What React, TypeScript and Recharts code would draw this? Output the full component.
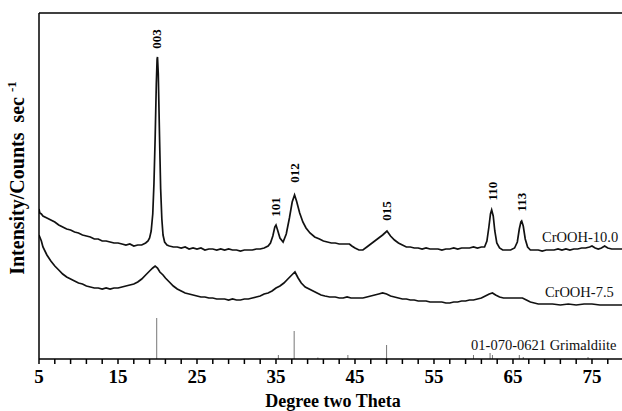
import React from 'react';
import { ComposedChart, Line, Scatter, XAxis, YAxis, ReferenceLine } from 'recharts';

// CrOOH-10.0 trace: [2theta, counts]
const crooh100: [number, number][] = [
  [5.0, 150], [5.1, 146], [5.3, 145], [5.5, 143], [6.0, 141], [6.5, 139], [7.0, 137], [7.5, 134],
  [8.0, 132], [8.5, 130], [9.0, 129], [9.5, 127], [10.0, 126], [10.5, 124], [11.0, 123], [11.5, 122],
  [12.0, 120], [12.5, 120], [13.0, 118], [13.5, 118], [14.0, 117], [14.5, 116], [15.0, 116], [15.5, 115],
  [16.0, 114], [16.5, 115], [17.0, 113], [17.5, 114], [18.0, 114], [18.5, 116], [18.8, 118], [19.0, 121],
  [19.2, 128], [19.4, 145], [19.55, 175], [19.7, 220], [19.85, 275], [19.95, 300], [20.0, 302], [20.1, 285],
  [20.25, 225], [20.4, 170], [20.55, 140], [20.7, 124], [20.9, 117], [21.2, 114], [21.5, 113], [22.0, 112],
  [22.5, 112], [23.0, 111], [23.5, 112], [24.0, 110], [24.5, 111], [25.0, 110], [25.5, 111], [26.0, 109],
  [26.5, 110], [27.0, 110], [27.5, 109], [28.0, 110], [28.5, 109], [29.0, 110], [29.5, 109], [30.0, 109],
  [30.5, 108], [31.0, 109], [31.5, 109], [32.0, 109], [32.5, 110], [33.0, 110], [33.5, 111], [34.0, 113],
  [34.3, 116], [34.6, 123], [34.85, 132], [35.0, 134], [35.2, 129], [35.5, 121], [35.9, 117], [36.3, 125],
  [36.7, 141], [37.05, 157], [37.35, 164], [37.6, 158], [38.0, 146], [38.4, 137], [38.8, 131], [39.3, 126],
  [39.9, 122], [40.5, 120], [41.0, 118], [41.5, 117], [42.0, 116], [42.5, 116], [43.0, 115], [43.5, 115],
  [44.0, 115], [44.3, 115], [44.6, 113], [45.0, 111], [45.5, 109], [46.0, 109], [46.5, 112], [47.0, 115],
  [47.5, 118], [48.0, 121], [48.5, 124], [49.05, 128], [49.5, 123], [50.0, 119], [50.5, 116], [51.0, 114],
  [51.5, 112], [52.0, 112], [52.5, 111], [53.0, 111], [53.5, 110], [54.0, 111], [54.5, 110], [55.0, 110],
  [55.5, 110], [56.0, 109], [56.5, 110], [57.0, 110], [57.5, 111], [58.0, 110], [58.5, 111], [59.0, 111],
  [59.5, 111], [60.0, 112], [60.5, 111], [61.0, 112], [61.4, 112], [61.7, 118], [61.95, 132], [62.15, 145],
  [62.3, 149], [62.5, 143], [62.7, 128], [62.95, 116], [63.3, 111], [63.7, 109], [64.2, 109], [64.7, 109],
  [65.2, 111], [65.55, 117], [65.8, 130], [66.0, 137], [66.1, 138], [66.3, 133], [66.55, 120], [66.85, 112],
  [67.2, 109], [67.7, 109], [68.2, 109], [68.7, 108], [69.2, 109], [69.7, 109], [70.2, 109], [70.7, 110],
  [71.2, 109], [71.7, 110], [72.2, 109], [72.7, 110], [73.2, 110], [73.7, 111], [74.2, 111], [74.7, 112],
  [75.0, 113], [75.4, 111], [75.8, 110], [76.2, 111], [76.6, 113], [77.0, 111], [77.5, 110], [78.0, 110],
  [78.5, 110], [78.8, 110],
];

// CrOOH-7.5 trace
const crooh75: [number, number][] = [
  [5.0, 124], [5.1, 122], [5.3, 118], [5.5, 112], [6.0, 104], [6.5, 98], [7.0, 93], [7.5, 89],
  [8.0, 85], [8.5, 82], [9.0, 80], [9.5, 78], [10.0, 76], [10.5, 75], [11.0, 73], [11.5, 72],
  [12.0, 71], [12.5, 71], [13.0, 70], [13.5, 71], [14.0, 70], [14.5, 71], [15.0, 71], [15.5, 72],
  [16.0, 73], [16.5, 74], [17.0, 75], [17.5, 77], [18.0, 80], [18.5, 84], [19.0, 88], [19.4, 91],
  [19.7, 93], [20.0, 91], [20.3, 87], [20.7, 84], [21.0, 81], [21.5, 77], [22.0, 73], [22.5, 70],
  [23.0, 68], [23.5, 66], [24.0, 65], [24.5, 64], [25.0, 63], [25.5, 62], [26.0, 62], [26.5, 61],
  [27.0, 61], [27.5, 60], [28.0, 60], [28.5, 60], [29.0, 59], [29.5, 60], [30.0, 59], [30.5, 59],
  [31.0, 60], [31.5, 60], [32.0, 61], [32.5, 62], [33.0, 63], [33.5, 65], [34.0, 66], [34.5, 68],
  [35.0, 71], [35.5, 73], [36.0, 76], [36.5, 80], [37.0, 84], [37.4, 87], [37.8, 81], [38.2, 76],
  [38.7, 72], [39.2, 70], [39.7, 68], [40.2, 66], [40.7, 64], [41.2, 63], [41.8, 62], [42.5, 62],
  [43.0, 61], [43.5, 61], [44.0, 62], [44.5, 61], [45.0, 61], [45.5, 61], [46.0, 61], [46.5, 62],
  [47.0, 63], [47.5, 64], [48.0, 65], [48.5, 66], [49.0, 65], [49.5, 63], [50.0, 62], [50.5, 61],
  [51.0, 60], [51.5, 60], [52.0, 59], [52.5, 59], [53.0, 58], [53.5, 58], [54.0, 58], [54.5, 57],
  [55.0, 57], [55.5, 57], [56.0, 57], [56.5, 56], [57.0, 56], [57.5, 57], [58.0, 57], [58.5, 58],
  [59.0, 58], [59.5, 59], [60.0, 59], [60.5, 60], [61.0, 61], [61.5, 63], [62.0, 65], [62.4, 66],
  [62.8, 64], [63.3, 62], [63.8, 61], [64.3, 61], [64.8, 61], [65.3, 61], [65.8, 61], [66.2, 61],
  [66.7, 59], [67.2, 57], [67.7, 56], [68.2, 55], [68.7, 55], [69.2, 55], [70.0, 55], [71.0, 54],
  [72.0, 55], [73.0, 54], [74.0, 55], [75.0, 55], [76.0, 54], [77.0, 54], [78.0, 54], [78.8, 54],
];

// reference card 01-070-0621 sticks: [2theta, relative height]
const grimaldiite: [number, number][] = [
  [19.9, 41], [35.3, 4], [37.3, 28], [40.3, 1.5], [44.1, 4], [49.0, 14],
  [60.0, 4], [62.1, 6], [62.4, 4], [65.8, 4], [66.3, 2], [74.5, 2],
];

const peakLabels = [
  { x: 19.85, y: 320, text: '003' },
  { x: 35.0, y: 152, text: '101' },
  { x: 37.4, y: 186, text: '012' },
  { x: 49.05, y: 148, text: '015' },
  { x: 62.35, y: 168, text: '110' },
  { x: 66.1, y: 157, text: '113' },
];

const seriesLabels = [
  { x: 73.5, y: 122, text: 'CrOOH-10.0' },
  { x: 73.4, y: 67, text: 'CrOOH-7.5' },
  { x: 68.9, y: 14, text: '01-070-0621 Grimaldiite' },
];

const xTicks = [5, 7, 9, 11, 13, 15, 17, 19, 21, 23, 25, 27, 29, 31, 33, 35, 37, 39, 41, 43, 45, 47, 49, 51, 53, 55, 57, 59, 61, 63, 65, 67, 69, 71, 73, 75, 77];

const serif = '"Liberation Serif", "Times New Roman", serif';
const toPts = (arr: [number, number][]) => arr.map(([x, y]) => ({ x, y }));

const XTick = (props: any) => {
  const { x, y, payload } = props;
  if ((payload.value - 5) % 10 !== 0) return <g />;
  return (
    <text x={x} y={y + 17} textAnchor="middle" fontFamily={serif} fontWeight="bold" fontSize={19} fill="#000">
      {payload.value}
    </text>
  );
};

const PeakLabel = (props: any) => {
  const { cx, cy, payload } = props;
  return (
    <text x={cx} y={cy} transform={`rotate(-90 ${cx} ${cy})`} textAnchor="middle" dominantBaseline="central"
      fontFamily={serif} fontWeight="bold" fontSize={13} fill="#000">
      {payload.text}
    </text>
  );
};

const SeriesLabel = (props: any) => {
  const { cx, cy, payload } = props;
  return (
    <text x={cx} y={cy} textAnchor="middle" dominantBaseline="central" fontFamily={serif} fontSize={14.5} fill="#111">
      {payload.text}
    </text>
  );
};

const YTitle = () => (
  <text x={24} y={178} transform="rotate(-90 24 178)" textAnchor="middle" fontFamily={serif} fontWeight="bold"
    fontSize={20} fill="#000" style={{ whiteSpace: 'pre' }}>
    {'Intensity/Counts  sec '}
    <tspan dy={-8} fontSize={13}>-1</tspan>
  </text>
);

const XTitle = () => (
  <text x={333} y={407} textAnchor="middle" fontFamily={serif} fontWeight="bold" fontSize={18} fill="#000">
    Degree two Theta
  </text>
);

export default function App() {
  return (
    <div style={{ position: 'absolute', left: 0, top: 0, background: '#fff' }}>
      <ComposedChart width={622} height={411} margin={{ top: 13, right: 0, bottom: 0, left: 0 }}>
        <XAxis dataKey="x" type="number" domain={[5, 78.8]} ticks={xTicks} interval={0}
          stroke="#000" strokeWidth={1.5} tickSize={5} tick={<XTick />} height={52}
          allowDataOverflow label={<XTitle />} />
        <YAxis type="number" domain={[0, 346]} width={39} tick={false} tickLine={false}
          stroke="#000" strokeWidth={1.5} allowDataOverflow label={<YTitle />} />
        <ReferenceLine y={346} stroke="#000" strokeWidth={1.5} />
        {grimaldiite.map(([t, h]) => (
          <ReferenceLine key={t} segment={[{ x: t, y: 0 }, { x: t, y: h }]} stroke="#777" strokeWidth={1} />
        ))}
        <Line data={toPts(crooh100)} dataKey="y" type="linear" stroke="#111" strokeWidth={1.7} dot={false} isAnimationActive={false} />
        <Line data={toPts(crooh75)} dataKey="y" type="linear" stroke="#111" strokeWidth={1.7} dot={false} isAnimationActive={false} />
        <Scatter data={peakLabels} dataKey="y" shape={<PeakLabel />} isAnimationActive={false} />
        <Scatter data={seriesLabels} dataKey="y" shape={<SeriesLabel />} isAnimationActive={false} />
      </ComposedChart>
    </div>
  );
}
